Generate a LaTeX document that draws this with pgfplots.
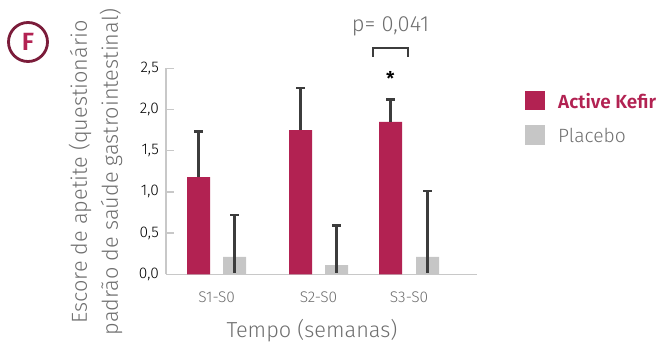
\documentclass[border=0pt]{standalone}
\usepackage{pgfplots}
\pgfplotsset{compat=1.18}
\usepackage{fontspec}
\setmainfont{Fira Sans Light}[BoldFont={Fira Sans SemiBold}]
\definecolor{kefir}{HTML}{B22252}
\definecolor{plac}{HTML}{C6C6C6}
\definecolor{errc}{HTML}{3C3C3C}
\definecolor{axc}{HTML}{C8C8C8}
\definecolor{txt}{HTML}{6E6E6E}
\definecolor{tick}{HTML}{8A8A8A}
\definecolor{maroon}{HTML}{7B1C3A}
\begin{document}
\begin{tikzpicture}[x=1bp,y=1bp]
\useasboundingbox (0,0) rectangle (660,343);
\begin{axis}[
  at={(166bp,68.7bp)}, anchor=origin,
  scale only axis, width=311bp, height=206bp,
  xmin=166, xmax=477, ymin=0, ymax=2.5,
  axis x line*=bottom, axis y line*=left,
  axis line style={axc, line width=1.6bp},
  xtick={216.6,318.5,409}, xticklabels={S1-S0,S2-S0,S3-S0},
  xtick style={draw=none},
  ytick={0,0.5,1,1.5,2,2.5},
  yticklabels={0{,}0,0{,}5,1{,}0,1{,}5,2{,}0,2{,}5},
  ytick style={axc, line width=1.4bp},
  major tick length=8bp, tick align=inside,
  ticklabel style={font=\fontsize{15.5}{17}\selectfont},
  yticklabel style={tick, anchor=east, inner sep=0pt, xshift=-7bp},
  xticklabel style={txt, anchor=north, inner sep=0pt, yshift=-9bp},
  ybar, bar width=23, bar shift=0,
  clip=false,
]
% Active Kefir
\addplot[fill=kefir, draw=none, error bars/.cd, y dir=plus, y explicit,
  error bar style={errc, line width=2.6bp}, error mark options={errc, line width=2.6bp, mark size=4.5bp, rotate=90}]
  coordinates {(198.7,1.18) +- (0,0.55) (300.5,1.75) +- (0,0.51) (390.7,1.85) +- (0,0.27)};
% Placebo
\addplot[fill=plac, draw=none, error bars/.cd, y dir=plus, y explicit,
  error bar style={errc, line width=2.6bp}, error mark options={errc, line width=2.6bp, mark size=4.5bp, rotate=90}]
  coordinates {(234.5,0.21) +- (0,0.51) (336.5,0.11) +- (0,0.48) (427.5,0.21) +- (0,0.80)};
% Placebo lower part of error line
\addplot[draw=none, fill=none, forget plot, error bars/.cd, y dir=minus, y explicit,
  error bar style={errc, line width=2.6bp}, error mark=none]
  coordinates {(234.5,0.21) -= (0,0.19) (336.5,0.11) -= (0,0.09) (427.5,0.21) -= (0,0.19)};
\end{axis}
% significance bracket and star
\draw[errc, line width=2bp] (372.7,343-56.5) |- (408.3,343-48.3) -- (408.3,343-56.5);
\node[font=\fontsize{19}{20}\selectfont\bfseries, text=black, inner sep=0pt] at (390.3,343-78) {*};
% p-value
\node[font=\fontsize{22}{24}\selectfont, text=txt, inner sep=0pt] at (390.5,343-26) {p= 0,041};
% circle F
\draw[maroon, line width=2.8bp] (28,343-42) circle (19.5bp);
\node[font=\fontsize{25}{27}\selectfont\bfseries, text=kefir, inner sep=0pt] at (28,343-42) {F};
% y label
\node[rotate=90, align=center, font=\fontsize{21.8}{31}\selectfont, text=txt, inner sep=0pt] at (95.5,343-172) {Escore de apetite (questionário\\padrão de saúde gastrointestinal)};
% x label
\node[font=\fontsize{21.8}{24}\selectfont, text=txt, inner sep=0pt] at (312,343-331) {Tempo (semanas)};
% legend
\fill[kefir] (525,343-110) rectangle (545,343-91);
\fill[plac] (525,343-145) rectangle (545,343-125);
\node[anchor=west, font=\fontsize{19}{21}\selectfont\bfseries, text=kefir, inner sep=0pt] at (558,343-101) {Active Kefir};
\node[anchor=west, font=\fontsize{19.3}{21}\selectfont, text=txt, inner sep=0pt] at (558,343-135) {Placebo};
\end{tikzpicture}
\end{document}
